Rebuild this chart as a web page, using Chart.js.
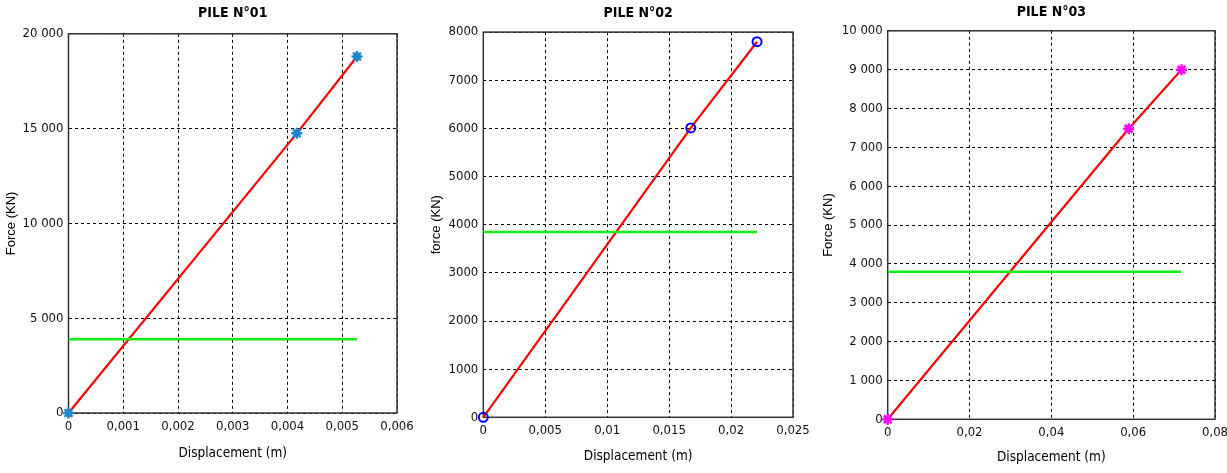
<!DOCTYPE html>
<html>
<head>
<meta charset="utf-8">
<script src="https://cdn.jsdelivr.net/npm/chart.js@4"></script>
<style>
  body { margin: 0; background: #fff; width: 1227px; height: 473px; overflow: hidden; position: relative; }
  .box { position: absolute; top: 0; height: 473px; }
</style>
</head>
<body>
<div class="box" style="left:0px;width:421px"><canvas id="c1" width="421" height="473"></canvas></div>
<div class="box" style="left:425px;width:392px"><canvas id="c2" width="392" height="473"></canvas></div>
<div class="box" style="left:815px;width:424px"><canvas id="c3" width="424" height="473"></canvas></div>
<script>
// PILE N°01
const disp01 = [0, 0.00417, 0.00527];
const force01 = [0, 14750, 18800];
const limitX01 = [0, 0.00527];
const limitY01 = [3890, 3890];
const xTicks01 = ["0", "0,001", "0,002", "0,003", "0,004", "0,005", "0,006"];
const yTicks01 = ["0", "5 000", "10 000", "15 000", "20 000"];

// PILE N°02
const disp02 = [0, 0.01675, 0.0221];
const force02 = [0, 6010, 7800];
const limitX02 = [0, 0.0221];
const limitY02 = [3850, 3850];
const xTicks02 = ["0", "0,005", "0,01", "0,015", "0,02", "0,025"];
const yTicks02 = ["0", "1000", "2000", "3000", "4000", "5000", "6000", "7000", "8000"];

// PILE N°03
const disp03 = [0, 0.0589, 0.0718];
const force03 = [0, 7480, 9000];
const limitX03 = [0, 0.0717];
const limitY03 = [3800, 3800];
const xTicks03 = ["0", "0,02", "0,04", "0,06", "0,08"];
const yTicks03 = ["0", "1 000", "2 000", "3 000", "4 000", "5 000", "6 000", "7 000", "8 000", "9 000", "10 000"];

const narrow = "'Liberation Sans Narrow', 'Arial Narrow', 'DejaVu Sans Condensed', sans-serif";

// solid frame around the plot area, under the data
const framePlugin = {
  id: "frame",
  beforeDatasetsDraw(chart) {
    const a = chart.chartArea, ctx = chart.ctx;
    ctx.save();
    ctx.strokeStyle = "#333";
    ctx.lineWidth = 1.5;
    ctx.strokeRect(a.left, a.top, a.right - a.left, a.bottom - a.top);
    ctx.restore();
  }
};

function pts(xs, ys) {
  return xs.map((x, i) => ({ x: x, y: ys[i] }));
}

function makeChart(id, o) {
  return new Chart(document.getElementById(id), {
    type: "scatter",
    data: {
      datasets: [
        {
          data: pts(o.limitX, o.limitY),
          showLine: true,
          borderColor: "#14f014",
          borderWidth: 2.5,
          pointRadius: 0,
          clip: false
        },
        {
          data: pts(o.disp, o.force),
          showLine: true,
          borderColor: "#ff0000",
          borderWidth: 2.2,
          tension: 0,
          pointStyle: o.marker,
          pointRadius: o.markerSize,
          pointBorderColor: o.markerColor,
          pointBackgroundColor: "rgba(0,0,0,0)",
          pointBorderWidth: o.markerWidth,
          clip: false
        }
      ]
    },
    options: {
      responsive: false,
      animation: false,
      events: [],
      layout: { padding: { left: 0, right: 24, top: 0, bottom: 0 } },
      plugins: {
        legend: { display: false },
        tooltip: { enabled: false },
        title: {
          display: true,
          text: o.title,
          fullSize: false,
          color: "#000",
          font: { family: narrow, size: 14, weight: "bold" },
          padding: { top: o.titleTop, bottom: o.titleBottom }
        }
      },
      scales: {
        x: {
          type: "linear",
          min: 0,
          max: o.xMax,
          ticks: {
            stepSize: o.xStep,
            color: "#111",
            padding: 6,
            maxRotation: 0,
            autoSkip: false,
            font: { family: narrow, size: 13 },
            callback: (v, i) => o.xTicks[i]
          },
          grid: { color: "#000", lineWidth: 1, drawTicks: false },
          border: { display: false, dash: [3, 3] },
          title: {
            display: true,
            text: "Displacement (m)",
            color: "#000",
            font: { family: narrow, size: 13.5 },
            padding: { top: 0, bottom: o.xTitleBottom }
          },
          afterFit: (s) => { s.height = o.xAxisHeight; }
        },
        y: {
          type: "linear",
          min: 0,
          max: o.yMax,
          ticks: {
            stepSize: o.yStep,
            color: "#111",
            padding: 5,
            autoSkip: false,
            font: { family: narrow, size: 13 },
            callback: (v, i) => o.yTicks[i]
          },
          grid: { color: "#000", lineWidth: 1, drawTicks: false },
          border: { display: false, dash: [3, 3] },
          title: {
            display: true,
            text: o.yTitle,
            color: "#000",
            font: { family: "'Liberation Sans', Arial, sans-serif", size: 13 },
            padding: { top: o.yTitleLeft, bottom: 0 }
          },
          afterFit: (s) => { s.width = o.yAxisWidth; }
        }
      }
    },
    plugins: [framePlugin]
  });
}

makeChart("c1", {
  title: "PILE N°01", yTitle: "Force (KN)",
  disp: disp01, force: force01, limitX: limitX01, limitY: limitY01,
  xTicks: xTicks01, yTicks: yTicks01,
  xMax: 0.006, xStep: 0.001, yMax: 20000, yStep: 5000,
  marker: "star", markerSize: 5.5, markerWidth: 2.5, markerColor: "#1a86cc",
  titleTop: 5, titleBottom: 12,
  xAxisHeight: 60, xTitleBottom: 11, yAxisWidth: 68.5, yTitleLeft: 4
});

makeChart("c2", {
  title: "PILE N°02", yTitle: "force (KN)",
  disp: disp02, force: force02, limitX: limitX02, limitY: limitY02,
  xTicks: xTicks02, yTicks: yTicks02,
  xMax: 0.025, xStep: 0.005, yMax: 8000, yStep: 1000,
  marker: "circle", markerSize: 4.5, markerWidth: 2, markerColor: "#0000ff",
  titleTop: 5, titleBottom: 10.3,
  xAxisHeight: 55.7, xTitleBottom: 8.3, yAxisWidth: 58.3, yTitleLeft: 4
});

makeChart("c3", {
  title: "PILE N°03", yTitle: "Force (KN)",
  disp: disp03, force: force03, limitX: limitX03, limitY: limitY03,
  xTicks: xTicks03, yTicks: yTicks03,
  xMax: 0.08, xStep: 0.02, yMax: 10000, yStep: 1000,
  marker: "star", markerSize: 5.5, markerWidth: 2.5, markerColor: "#ff00ff",
  titleTop: 4, titleBottom: 10,
  xAxisHeight: 53.7, xTitleBottom: 7, yAxisWidth: 72.7, yTitleLeft: 6
});
</script>
</body>
</html>
